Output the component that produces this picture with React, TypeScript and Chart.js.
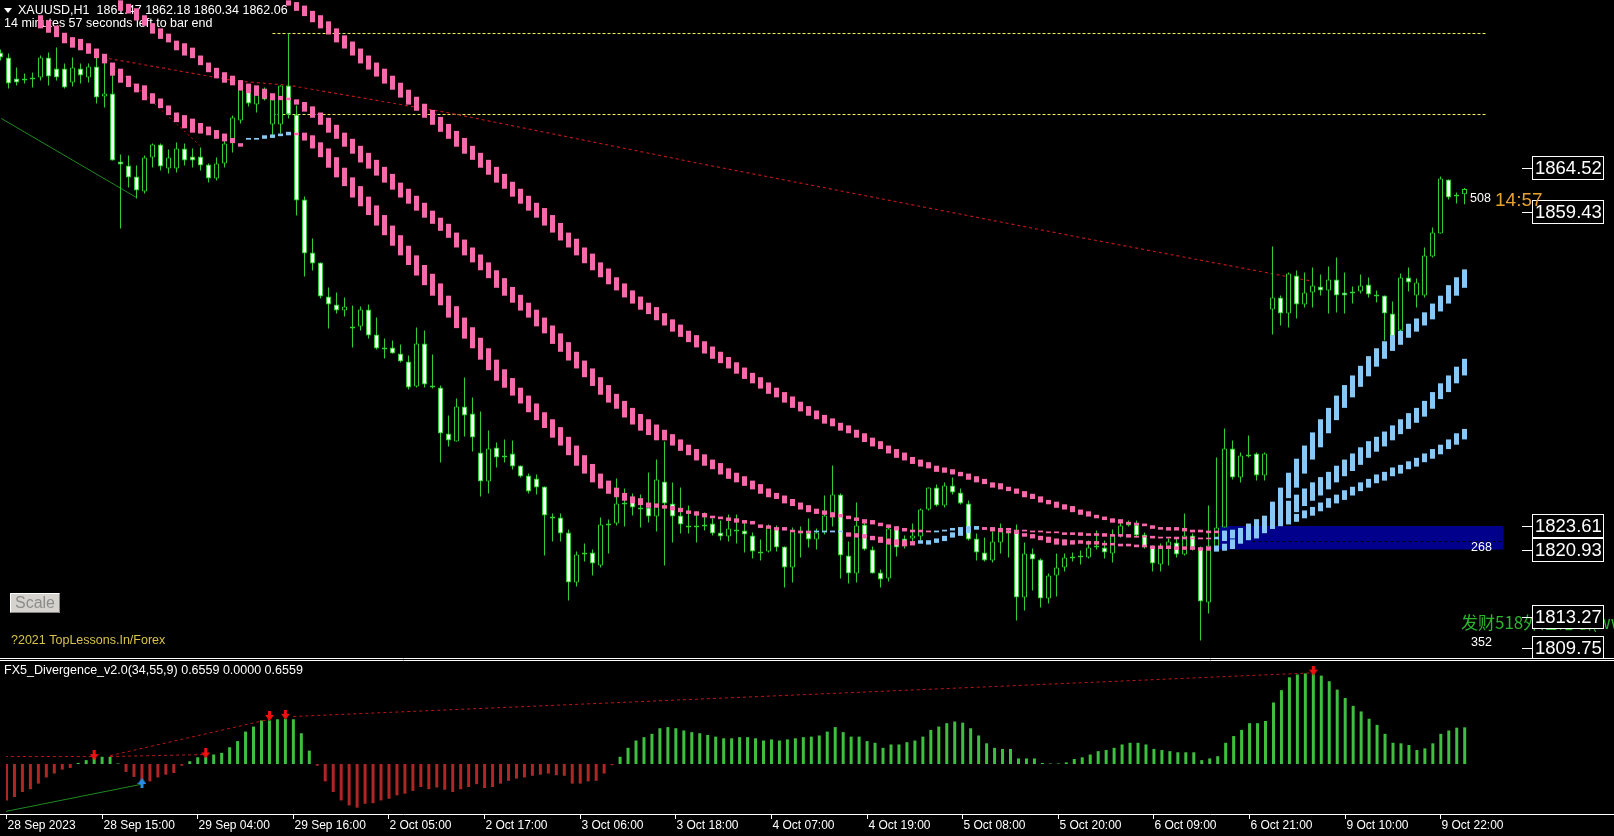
import React, { useEffect, useRef } from "react";
import Chart from "chart.js/auto";

// ---------------- DATA ----------------
const OPEN = [
1877.65,1877.08,1874.68,1874.68,1874.79,1874.79,1877.08,1875.82,1875.82,1874.22,
1875.82,1874.79,1876.05,1872.63,1872.97,1865.21,1864.75,1863.50,1861.79,1865.67,
1867.15,1864.41,1864.41,1866.69,1865.78,1865.78,1864.87,1863.27,1864.98,1867.38,
1869.89,1873.43,1871.71,1873.54,1869.43,1869.43,1873.88,1870.57,1860.87,1854.83,
1853.69,1849.81,1848.89,1848.21,1846.38,1846.38,1848.32,1845.47,1843.99,1843.99,
1843.30,1842.39,1839.54,1844.44,1839.65,1839.42,1834.17,1833.26,1837.26,1836.46,
1832.01,1828.70,1832.58,1831.67,1831.89,1830.52,1829.38,1829.04,1828.13,1824.71,
1824.59,1822.88,1817.17,1820.60,1820.60,1819.11,1823.91,1823.91,1826.30,1826.87,
1825.73,1825.73,1824.71,1828.70,1826.19,1824.82,1823.68,1823.68,1823.79,1823.91,
1822.88,1822.42,1823.22,1823.11,1822.54,1820.71,1820.71,1823.45,1821.28,1818.89,
1822.99,1822.88,1822.08,1822.88,1824.82,1827.22,1820.25,1818.20,1823.79,1820.94,
1818.31,1817.63,1823.45,1822.19,1822.19,1822.42,1825.50,1828.01,1825.96,1828.24,
1827.44,1826.19,1822.19,1820.60,1819.68,1821.74,1822.99,1823.11,1815.46,1820.48,
1819.80,1815.35,1817.97,1818.89,1820.14,1820.25,1820.03,1821.17,1821.17,1820.48,
1822.54,1823.91,1823.79,1822.65,1821.17,1819.23,1821.17,1821.74,1820.37,1822.54,
1821.17,1814.89,1821.17,1823.45,1832.46,1829.16,1831.78,1831.89,1829.38,1848.32,
1849.69,1847.87,1852.20,1848.89,1850.26,1850.95,1850.49,1851.75,1850.26,1850.38,
1850.38,1851.18,1850.03,1849.92,1847.87,1845.93,1851.97,1849.92,1849.92,1854.37,
1856.99,1863.16,1861.44,1861.47];
const HIGH = [
1877.99,1877.53,1875.94,1875.25,1875.37,1877.30,1877.65,1878.22,1876.39,1877.08,
1876.39,1876.39,1877.08,1876.96,1875.94,1866.01,1865.89,1864.75,1865.89,1867.26,
1867.26,1866.58,1867.38,1867.26,1866.69,1866.81,1864.98,1865.67,1867.95,1870.46,
1874.22,1873.88,1873.65,1873.65,1872.40,1873.88,1879.81,1871.60,1861.22,1856.42,
1853.69,1850.83,1850.26,1849.69,1848.78,1848.67,1848.89,1847.41,1845.01,1844.79,
1844.33,1843.07,1846.27,1845.93,1843.19,1839.65,1836.23,1838.17,1840.56,1838.28,
1836.69,1834.52,1833.15,1833.49,1833.38,1830.52,1829.61,1829.50,1828.13,1825.05,
1825.05,1823.22,1820.71,1821.62,1820.94,1824.59,1824.36,1829.04,1827.90,1827.33,
1827.22,1829.73,1831.21,1833.26,1828.59,1828.01,1825.96,1825.28,1825.16,1824.48,
1824.25,1824.93,1824.93,1824.02,1822.88,1822.08,1823.79,1823.68,1821.28,1823.45,
1823.56,1824.48,1823.34,1827.10,1830.52,1827.33,1821.85,1826.30,1824.02,1821.28,
1818.66,1823.45,1823.56,1822.54,1823.91,1825.62,1828.01,1828.36,1828.59,1829.16,
1827.90,1826.53,1822.77,1822.31,1822.99,1823.91,1823.34,1823.79,1821.74,1821.05,
1819.91,1818.20,1820.48,1820.48,1820.60,1820.82,1821.97,1823.11,1821.97,1823.22,
1824.13,1824.25,1824.25,1822.88,1821.40,1821.62,1822.19,1822.19,1825.05,1822.77,
1821.28,1825.96,1831.44,1834.75,1833.38,1832.01,1833.95,1832.01,1832.01,1855.51,
1849.92,1852.55,1852.77,1852.55,1853.12,1852.32,1853.23,1854.26,1852.55,1850.95,
1852.32,1851.97,1850.49,1849.92,1849.24,1852.43,1853.12,1851.86,1855.40,1857.68,
1863.50,1863.16,1861.67,1862.18];
const LOW = [
1876.73,1873.54,1873.88,1874.11,1873.65,1874.45,1873.88,1874.45,1873.54,1873.77,
1874.11,1874.22,1871.83,1871.37,1865.32,1857.57,1862.24,1860.99,1861.56,1864.53,
1864.18,1863.84,1863.96,1864.75,1864.53,1864.18,1862.81,1863.04,1864.53,1866.24,
1869.55,1871.49,1870.80,1872.17,1867.95,1868.40,1870.12,1859.05,1852.09,1852.77,
1849.58,1846.16,1847.87,1847.53,1843.99,1845.93,1845.01,1843.76,1842.73,1843.30,
1842.28,1839.19,1839.42,1839.42,1839.31,1830.87,1832.69,1833.26,1833.83,1832.12,
1826.99,1827.33,1830.30,1830.87,1830.07,1829.16,1827.33,1827.22,1820.25,1821.85,
1821.85,1815.12,1816.72,1819.57,1817.97,1818.89,1820.48,1823.68,1823.56,1824.82,
1823.45,1824.02,1823.00,1819.11,1821.74,1822.77,1822.77,1821.74,1823.11,1822.54,
1821.97,1821.85,1821.62,1820.60,1819.91,1819.68,1820.60,1820.71,1816.60,1817.17,
1820.03,1821.17,1820.94,1822.65,1823.56,1817.63,1817.06,1817.17,1820.82,1818.20,
1816.60,1817.29,1820.14,1821.05,1821.51,1821.74,1825.39,1825.85,1825.73,1827.22,
1826.07,1821.97,1819.68,1819.57,1819.46,1820.48,1820.03,1812.84,1813.98,1816.26,
1814.32,1814.78,1815.58,1818.43,1819.57,1819.23,1819.91,1820.94,1819.91,1819.46,
1822.31,1823.56,1822.31,1821.05,1818.43,1818.43,1819.11,1820.03,1820.25,1820.82,
1810.56,1813.64,1821.05,1823.45,1828.93,1828.59,1831.44,1828.81,1828.81,1845.47,
1846.50,1846.27,1847.30,1848.55,1848.55,1849.92,1847.87,1847.98,1847.87,1849.01,
1850.15,1849.69,1849.12,1844.79,1845.13,1845.70,1850.38,1848.55,1849.69,1854.26,
1856.99,1860.87,1860.42,1860.34];
const CLOSE = [
1877.08,1874.11,1874.22,1874.45,1874.57,1877.08,1874.91,1874.79,1873.65,1875.94,
1875.02,1876.05,1872.51,1872.97,1865.32,1864.87,1863.38,1861.90,1865.67,1867.15,
1864.64,1865.67,1866.69,1865.32,1865.32,1864.75,1863.27,1864.98,1867.26,1870.23,
1873.54,1871.83,1872.97,1872.28,1872.28,1873.88,1870.57,1860.76,1854.71,1853.57,
1849.81,1848.89,1848.21,1848.67,1846.15,1848.32,1845.36,1843.87,1843.76,1843.30,
1842.39,1839.42,1844.44,1839.76,1839.42,1834.17,1833.38,1837.26,1836.23,1833.72,
1828.70,1832.46,1831.44,1831.44,1830.41,1829.27,1827.56,1828.01,1824.82,1824.48,
1822.77,1817.17,1820.37,1820.37,1819.34,1823.79,1823.68,1826.19,1826.07,1825.73,
1825.50,1824.71,1828.93,1826.19,1824.71,1823.79,1823.45,1823.45,1823.56,1822.77,
1822.42,1823.34,1822.99,1822.65,1820.71,1820.48,1823.56,1821.17,1818.89,1823.11,
1822.77,1822.08,1822.88,1824.82,1827.22,1820.25,1818.20,1823.68,1820.94,1818.20,
1817.52,1823.34,1821.17,1821.40,1822.54,1825.50,1828.01,1825.96,1828.24,1827.44,
1826.19,1822.08,1820.60,1819.68,1821.85,1823.11,1822.77,1815.46,1820.48,1819.80,
1815.35,1817.97,1818.89,1820.03,1819.91,1820.03,1821.17,1821.40,1820.60,1822.65,
1823.68,1823.68,1822.54,1821.17,1819.34,1821.17,1821.85,1820.37,1822.54,1821.17,
1815.01,1821.40,1823.45,1832.46,1829.16,1831.67,1831.56,1829.38,1831.89,1849.69,
1847.87,1852.43,1848.89,1850.26,1851.06,1850.49,1851.75,1849.92,1849.92,1850.15,
1851.06,1850.03,1849.81,1847.87,1845.24,1851.97,1851.40,1851.40,1854.48,1857.11,
1863.27,1861.10,1861.21,1862.06];

// Ribbon indicator (three speeds), upper / lower edge per bar, from a start bar
const FAST_START = 5;
const FAST_HI = [
1881.9,1881.3,1880.7,1879.9,1879.4,1879.2,1878.7,1878.1,1877.5,1876.5,
1875.8,1875.0,1874.1,1873.9,1873.0,1872.4,1871.6,1870.8,1870.5,1870.1,
1869.6,1869.2,1868.8,1868.4,1867.9,1867.3,1867.9,1867.9,1868.2,1868.3,
1868.4,1868.6,1868.5,1868.5,1868.2,1867.4,1866.7,1865.7,1864.5,1863.4,
1862.4,1861.2,1860.2,1859.1,1857.9,1856.8,1855.6,1854.5,1853.4,1852.4,
1851.3,1849.9,1848.7,1847.4,1846.3,1845.1,1843.9,1842.6,1841.5,1840.5,
1839.4,1838.5,1837.6,1836.6,1835.8,1834.9,1833.8,1832.8,1831.7,1830.7,
1829.6,1828.8,1828.0,1827.4,1827.0,1826.8,1826.3,1826.2,1826.0,1825.9,
1825.7,1825.4,1825.3,1825.1,1824.8,1824.7,1824.6,1824.5,1824.3,1824.2,
1823.8,1823.7,1823.5,1823.5,1823.2,1823.1,1823.1,1823.1,1823.1,1823.1,
1823.1,1822.9,1822.8,1822.7,1822.5,1822.4,1822.2,1822.1,1822.0,1821.9,
1822.0,1822.0,1822.2,1822.5,1822.9,1823.3,1823.4,1823.6,1823.4,1823.3,
1823.2,1823.1,1823.0,1822.8,1822.7,1822.5,1822.4,1822.2,1822.1,1822.0,
1822.0,1821.9,1821.9,1821.7,1821.7,1821.6,1821.6,1821.5,1821.5,1821.4,
1821.4,1821.4,1821.3,1821.3,1821.3,1821.2,1821.3,1821.4,1821.6,1822.1,
1822.8,1823.4,1824.0,1824.6,1826.4,1828.0,1829.7,1831.3,1832.8,1834.3,
1835.8,1837.1,1838.5,1839.7,1840.8,1841.9,1843.0,1843.9,1844.7,1845.4,
1845.9,1846.7,1847.3,1848.0,1849.0,1849.9,1851.1,1852.0,1852.9];
const FAST_LO = [
1880.4,1879.9,1879.4,1878.7,1878.2,1877.9,1877.5,1877.0,1876.4,1875.0,
1874.2,1873.7,1873.1,1872.2,1871.8,1871.3,1870.5,1869.7,1869.0,1868.5,
1868.4,1868.2,1867.8,1867.5,1867.3,1866.9,1867.7,1867.7,1867.8,1867.9,
1868.1,1868.2,1868.2,1867.6,1866.7,1865.7,1864.5,1863.4,1862.4,1861.1,
1860.1,1859.1,1857.9,1856.8,1855.6,1854.5,1853.4,1852.2,1851.1,1849.9,
1848.8,1847.4,1846.2,1845.0,1843.9,1842.6,1841.4,1840.2,1839.4,1838.5,
1837.6,1836.6,1835.7,1834.8,1833.7,1832.8,1831.7,1830.5,1829.6,1828.6,
1827.9,1827.3,1826.9,1826.5,1826.2,1826.0,1825.7,1825.7,1825.6,1825.4,
1825.2,1825.0,1824.8,1824.6,1824.5,1824.4,1824.2,1824.0,1823.9,1823.8,
1823.4,1823.3,1823.1,1823.1,1822.9,1822.8,1822.8,1822.9,1822.9,1822.9,
1822.9,1822.4,1822.3,1822.2,1822.0,1821.7,1821.5,1821.4,1821.3,1821.4,
1821.6,1821.5,1821.7,1821.9,1822.3,1822.5,1822.8,1823.2,1823.2,1823.0,
1822.9,1822.8,1822.7,1822.4,1822.2,1822.0,1821.7,1821.5,1821.4,1821.5,
1821.6,1821.5,1821.5,1821.4,1821.4,1821.3,1821.3,1821.2,1821.2,1821.0,
1821.0,1821.0,1820.9,1820.9,1820.9,1820.8,1820.8,1820.7,1820.8,1821.0,
1821.6,1822.0,1822.2,1822.8,1823.3,1825.0,1826.8,1828.0,1829.6,1831.2,
1832.6,1834.2,1835.7,1837.1,1838.3,1839.5,1840.7,1841.8,1842.7,1843.6,
1844.3,1845.1,1845.8,1846.5,1847.2,1848.1,1849.0,1849.9,1850.8];
const FAST_UP = [[31, 36], [102, 105], [115, 122], [152, 183]];

const MID_START = 15;
const MID_HI = [
1883.6,1883.2,1882.7,1881.9,1881.0,1880.4,1879.8,1879.0,1878.7,1878.2,
1877.3,1876.5,1875.9,1875.4,1875.0,1874.5,1874.1,1873.9,1873.5,1873.0,
1872.7,1872.5,1872.3,1872.0,1871.5,1870.8,1870.2,1869.4,1868.5,1867.8,
1867.0,1866.2,1865.4,1864.6,1863.8,1862.8,1862.1,1861.3,1860.5,1859.6,
1858.8,1858.1,1857.1,1856.3,1855.4,1854.6,1853.7,1852.8,1851.9,1850.9,
1850.0,1849.1,1848.3,1847.4,1846.5,1845.6,1844.6,1843.5,1842.5,1841.6,
1840.6,1839.7,1838.7,1837.9,1837.1,1836.4,1835.8,1835.2,1834.6,1834.1,
1833.5,1832.9,1832.4,1831.8,1831.2,1830.8,1830.2,1829.7,1829.3,1828.8,
1828.4,1827.9,1827.4,1827.1,1826.7,1826.3,1826.0,1825.6,1825.4,1825.2,
1825.0,1824.8,1824.6,1824.4,1824.3,1824.0,1823.8,1823.6,1823.4,1823.2,
1823.2,1823.1,1823.1,1823.2,1823.4,1823.5,1823.6,1823.6,1823.5,1823.5,
1823.4,1823.4,1823.2,1823.2,1823.1,1823.1,1823.0,1823.0,1822.9,1822.9,
1822.9,1822.8,1822.8,1822.8,1822.7,1822.7,1822.7,1822.5,1822.5,1822.5,
1822.4,1822.4,1822.4,1822.4,1822.3,1822.3,1822.3,1822.4,1822.8,1823.1,
1823.4,1823.9,1824.4,1824.8,1825.3,1825.8,1826.5,1827.2,1827.9,1828.6,
1829.2,1829.8,1830.5,1831.2,1831.9,1832.6,1833.3,1833.8,1834.4,1835.1,
1835.8,1836.5,1837.1,1837.9,1838.9,1839.9,1840.8,1841.8,1842.7];
const MID_LO = [
1882.4,1882.1,1881.3,1880.7,1879.8,1879.2,1878.8,1877.9,1877.3,1877.0,
1876.2,1875.4,1874.7,1874.2,1873.9,1873.3,1873.0,1872.7,1872.4,1872.2,
1872.2,1872.2,1871.7,1870.9,1870.2,1869.4,1868.5,1867.8,1866.9,1866.1,
1865.1,1864.4,1863.6,1862.8,1862.0,1861.1,1860.4,1859.6,1858.8,1858.1,
1857.3,1856.5,1855.4,1854.5,1853.7,1852.8,1851.9,1850.8,1849.9,1849.1,
1848.2,1847.4,1846.4,1845.6,1844.4,1843.5,1842.5,1841.6,1840.6,1839.6,
1838.6,1837.7,1837.0,1836.0,1835.2,1834.5,1834.0,1833.4,1833.4,1832.8,
1832.2,1831.7,1831.1,1830.5,1830.1,1829.5,1829.0,1828.6,1828.2,1827.8,
1827.3,1826.9,1826.7,1826.2,1825.9,1825.5,1825.2,1825.0,1824.9,1824.6,
1824.6,1824.4,1824.2,1823.9,1823.8,1823.6,1823.4,1823.1,1823.0,1822.9,
1822.9,1822.9,1822.9,1823.0,1823.1,1823.2,1823.3,1823.3,1823.2,1823.2,
1823.1,1823.1,1823.0,1823.0,1822.9,1822.9,1822.8,1822.8,1822.6,1822.6,
1822.5,1822.5,1822.5,1822.4,1822.4,1822.4,1822.3,1822.3,1822.3,1822.2,
1822.2,1822.2,1822.1,1822.1,1822.1,1822.1,1822.1,1822.1,1821.9,1822.2,
1822.4,1822.6,1822.9,1823.2,1823.6,1824.0,1824.6,1825.2,1825.9,1826.5,
1827.1,1827.8,1828.6,1829.3,1829.9,1830.6,1831.4,1832.1,1832.7,1833.4,
1834.1,1834.7,1835.4,1836.1,1837.0,1838.1,1838.9,1839.9,1840.8];
const MID_UP = [[117, 122], [152, 183]];

const SLOW_START = 36;
const SLOW_HI = [
1883.6,1883.4,1883.0,1882.4,1881.9,1881.2,1880.4,1879.6,1878.9,1878.1,
1877.3,1876.5,1875.8,1875.0,1874.2,1873.4,1872.6,1871.8,1871.1,1870.3,
1869.5,1868.7,1867.9,1867.0,1866.2,1865.4,1864.6,1863.8,1862.9,1862.1,
1861.3,1860.5,1859.9,1859.1,1858.2,1857.1,1856.4,1855.4,1854.7,1853.7,
1853.0,1852.0,1851.3,1850.5,1849.8,1849.1,1848.6,1847.9,1847.2,1846.6,
1845.9,1845.4,1844.7,1844.1,1843.5,1842.9,1842.3,1841.7,1841.1,1840.6,
1840.0,1839.4,1838.9,1838.4,1837.8,1837.3,1836.8,1836.3,1835.9,1835.4,
1835.1,1834.6,1834.2,1833.7,1833.3,1832.8,1832.4,1832.0,1831.5,1831.2,
1830.9,1830.5,1830.3,1830.1,1829.8,1829.6,1829.3,1829.0,1828.6,1828.5,
1828.1,1827.9,1827.6,1827.3,1827.0,1826.6,1826.4,1826.1,1825.9,1825.5,
1825.3,1824.9,1824.7,1824.5,1824.4,1824.1,1824.0,1823.9,1823.7,1823.5,
1823.5,1823.5,1823.4,1823.2,1823.2,1823.1,1823.1,1823.1,1823.2,1823.3,
1823.5,1823.7,1823.9,1824.1,1824.5,1824.7,1825.0,1825.4,1825.8,1826.3,
1826.8,1827.2,1827.7,1828.1,1828.6,1829.0,1829.5,1829.8,1830.3,1830.6,
1831.0,1831.4,1831.9,1832.4,1832.9,1833.5,1834.2,1834.7];
const SLOW_LO = [
1883.0,1882.4,1881.8,1881.1,1880.4,1879.7,1878.8,1878.1,1877.3,1876.4,
1875.7,1874.9,1874.1,1873.4,1872.5,1871.7,1871.0,1870.2,1869.4,1868.6,
1867.8,1866.9,1866.1,1865.4,1864.5,1863.7,1862.8,1862.1,1861.2,1860.4,
1859.6,1858.8,1857.9,1857.1,1856.2,1855.4,1854.5,1853.6,1852.8,1852.0,
1851.2,1850.5,1849.7,1849.0,1848.3,1847.8,1847.1,1846.5,1845.8,1845.2,
1844.6,1844.0,1843.3,1842.7,1842.2,1841.6,1841.0,1840.4,1839.9,1839.3,
1838.7,1838.3,1837.7,1837.1,1836.7,1836.2,1835.8,1835.3,1835.0,1834.5,
1834.2,1833.7,1833.2,1832.7,1832.4,1831.9,1831.4,1831.1,1830.7,1830.4,
1830.2,1829.8,1829.7,1829.5,1829.3,1828.9,1828.6,1828.4,1828.0,1827.8,
1827.6,1827.3,1826.9,1826.7,1826.3,1826.1,1825.7,1825.5,1825.2,1824.9,
1824.7,1824.5,1824.3,1824.0,1823.9,1823.8,1823.7,1823.6,1823.3,1823.2,
1823.1,1823.1,1823.0,1822.9,1822.9,1822.8,1822.8,1822.6,1822.6,1822.8,
1822.8,1822.9,1823.1,1823.3,1823.6,1823.8,1824.1,1824.5,1824.8,1825.3,
1825.7,1826.2,1826.6,1827.1,1827.6,1828.0,1828.5,1828.8,1829.3,1829.6,
1830.1,1830.4,1830.9,1831.3,1831.8,1832.4,1832.9,1833.5];
const SLOW_UP = [[153, 183]];

// Lines and zones drawn on the price chart
const LEVELS = [1879.81, 1870.57];
const LEVEL_FROM = 34;
const LEVEL_TO = 185.75;
const RES_TREND = [[12.8, 1877.08], [29.1, 1874.45], [36.2, 1873.88], [55.8, 1870.8], [87.4, 1864.98], [135, 1856.54], [164.1, 1851.52]];
const RES_TREND2 = [[13.3, 1876.85], [24.9, 1867.04]];
const SUP_TREND = [[0.1, 1870.12], [17, 1861.1]];
const ZONE_HI = 1823.61;
const ZONE_LO = 1820.93;
const ZONE_MID = 1821.85;
const ZONE_FROM = 152.4;
const ZONE_MID_FROM = 156.5;
const ZONE_TO = 187.9;
const PRICE_LABELS = [1864.52, 1859.43, 1823.61, 1820.93, 1813.27, 1809.75];

// FX5 divergence histogram
const DIV = [
-0.65,-0.59,-0.50,-0.45,-0.35,-0.24,-0.17,-0.10,-0.07,0.02,
0.07,0.13,0.13,0.13,0.01,-0.14,-0.23,-0.31,-0.31,-0.24,
-0.19,-0.16,-0.03,0.05,0.12,0.13,0.17,0.20,0.30,0.41,
0.58,0.67,0.78,0.78,0.80,0.81,0.80,0.55,0.24,-0.03,
-0.31,-0.50,-0.65,-0.74,-0.78,-0.71,-0.70,-0.65,-0.62,-0.56,
-0.53,-0.48,-0.41,-0.45,-0.42,-0.46,-0.50,-0.45,-0.41,-0.36,
-0.43,-0.41,-0.35,-0.30,-0.26,-0.24,-0.21,-0.19,-0.17,-0.20,
-0.21,-0.35,-0.35,-0.31,-0.30,-0.17,-0.02,0.13,0.29,0.42,
0.48,0.54,0.64,0.66,0.64,0.60,0.57,0.55,0.52,0.49,
0.46,0.46,0.48,0.48,0.46,0.42,0.44,0.42,0.44,0.46,
0.48,0.49,0.51,0.58,0.66,0.57,0.49,0.49,0.41,0.38,
0.29,0.35,0.35,0.39,0.42,0.49,0.61,0.67,0.73,0.76,
0.74,0.64,0.51,0.37,0.29,0.27,0.27,0.10,0.10,0.10,
0.02,0.01,0.01,0.03,0.09,0.12,0.17,0.23,0.25,0.29,
0.35,0.38,0.38,0.35,0.27,0.25,0.23,0.21,0.21,0.21,
0.07,0.10,0.14,0.38,0.50,0.61,0.73,0.73,0.77,1.10,
1.32,1.55,1.60,1.62,1.62,1.58,1.48,1.33,1.18,1.04,
0.94,0.81,0.70,0.54,0.38,0.37,0.34,0.25,0.28,0.37,
0.54,0.60,0.65,0.6559];
const DIV_BEAR_TRENDS = [
  [[-0.2, 0.134], [11, 0.134]],
  [[13, 0.134], [25, 0.17]],
  [[13, 0.15], [33, 0.8]],
  [[36, 0.85], [164, 1.63]],
];
const DIV_BULL_TRENDS = [[[-0.2, -0.85], [17, -0.36]]];
const DIV_SELL_ARROWS = [[11, 0.16], [25, 0.19], [33, 0.86], [35, 0.88], [164, 1.67]];
const DIV_BUY_ARROWS = [[17, -0.34]];

const TIME_TICK_BARS = [0, 12, 24, 36, 48, 60, 72, 84, 96, 108, 120, 132, 144, 156, 168, 180];
const TIME_LABELS = ["28 Sep 2023", "28 Sep 15:00", "29 Sep 04:00", "29 Sep 16:00", "2 Oct 05:00", "2 Oct 17:00", "3 Oct 06:00", "3 Oct 18:00", "4 Oct 07:00", "4 Oct 19:00", "5 Oct 08:00", "5 Oct 20:00", "6 Oct 09:00", "6 Oct 21:00", "9 Oct 10:00", "9 Oct 22:00"];

const HEADER = "XAUUSD,H1  1861.47 1862.18 1860.34 1862.06";
const TIMER = "14 minutes 57 seconds left to bar end";
const SUB_TITLE = "FX5_Divergence_v2.0(34,55,9) 0.6559 0.0000 0.6559";

// ---------------- STYLE ----------------
const PINK = "#f46aad";
const SKY = "#87c8f5";
const LIME = "#32cd32";
const FONT = "'Liberation Sans', Arial, sans-serif";

function inRanges(r: number[][], i: number) {
  return r.some(([a, b]) => i >= a && i <= b);
}
function pts(a: number[][]) {
  return a.map(([x, y]) => ({ x, y }));
}

function ribbon(start: number, hi: number[], lo: number[], up: number[][], order: number) {
  return {
    type: "bar" as const,
    order,
    grouped: false,
    barThickness: 5,
    borderWidth: 0,
    inflateAmount: 0,
    data: hi.map((h, k) => ({ x: start + k, y: [lo[k], h] })),
    backgroundColor: hi.map((_, k) => (inRanges(up, start + k) ? SKY : PINK)),
  };
}

function lineDs(data: { x: number; y: number }[], color: string, dash: number[], order: number, extra: any = {}) {
  return {
    type: "line" as const,
    order,
    data,
    borderColor: color,
    borderWidth: 1,
    borderDash: dash,
    pointRadius: 0,
    fill: false,
    tension: 0,
    ...extra,
  };
}

function makeArrow(color: string, down: boolean) {
  const cv = document.createElement("canvas");
  cv.width = 9;
  cv.height = 10;
  const g = cv.getContext("2d")!;
  g.fillStyle = color;
  g.beginPath();
  if (down) {
    g.fillRect(3, 0, 3, 5);
    g.moveTo(0, 4); g.lineTo(9, 4); g.lineTo(4.5, 10);
  } else {
    g.fillRect(3, 5, 3, 5);
    g.moveTo(0, 6); g.lineTo(9, 6); g.lineTo(4.5, 0);
  }
  g.closePath();
  g.fill();
  return cv;
}

const PLOT_W = 1520;

export default function App() {
  const mainRef = useRef<HTMLCanvasElement>(null);
  const subRef = useRef<HTMLCanvasElement>(null);

  useEffect(() => {
    document.body.style.margin = "0";
    document.body.style.background = "#000";
    document.body.style.overflow = "hidden";

    const xMin = -0.0625;
    const mainOverlay = {
      id: "mainOverlay",
      beforeDraw(chart: any) {
        const c = chart.ctx;
        c.save();
        c.fillStyle = "#000";
        c.fillRect(0, 0, chart.width, chart.height);
        c.restore();
      },
      beforeDatasetsDraw(chart: any) {
        const c = chart.ctx;
        c.save();
        c.fillStyle = "#fff";
        c.beginPath();
        c.moveTo(4, 8); c.lineTo(12, 8); c.lineTo(8, 13); c.closePath();
        c.fill();
        c.font = `12.5px ${FONT}`;
        c.textBaseline = "middle";
        c.textAlign = "left";
        c.fillText(HEADER, 18, 11);
        c.fillText(TIMER, 4, 24);
        c.restore();
      },
      afterDatasetsDraw(chart: any) {
        const c = chart.ctx;
        const ys = chart.scales.y;
        const right = chart.chartArea.right;
        c.save();
        // Scale button
        c.fillStyle = "#d6d3ce";
        c.fillRect(10, 593, 50, 20);
        c.strokeStyle = "#ffffff";
        c.lineWidth = 1;
        c.beginPath(); c.moveTo(10.5, 612.5); c.lineTo(10.5, 593.5); c.lineTo(59.5, 593.5); c.stroke();
        c.strokeStyle = "#808080";
        c.beginPath(); c.moveTo(59.5, 593.5); c.lineTo(59.5, 612.5); c.lineTo(10.5, 612.5); c.stroke();
        c.fillStyle = "#8c8c8c";
        c.font = `16px ${FONT}`;
        c.textAlign = "center";
        c.textBaseline = "middle";
        c.fillText("Scale", 35, 603.5);
        // copyright
        c.textAlign = "left";
        c.font = `12.5px ${FONT}`;
        c.fillStyle = "#d8c24e";
        c.fillText("?2021 TopLessons.In/Forex", 11, 641);
        // small numbers
        c.fillStyle = "#ffffff";
        c.fillText("508", 1470, 199);
        c.fillText("268", 1471, 548);
        c.fillText("352", 1471, 643);
        // chinese watermark
        c.fillStyle = "#2db52d";
        c.font = "17px 'Noto Sans CJK SC', sans-serif";
        c.fillText("发财518外汇论坛(www.518fx.com)", 1461, 623);
        // price labels
        c.font = `18.5px ${FONT}`;
        for (const v of PRICE_LABELS) {
          const py = Math.round(ys.getPixelForValue(v));
          c.strokeStyle = "#ffffff";
          c.beginPath(); c.moveTo(right + 2, py + 0.5); c.lineTo(right + 12, py + 0.5); c.stroke();
          c.fillStyle = "#000";
          c.fillRect(right + 12, py - 12, 72, 24);
          c.strokeRect(right + 12.5, py - 11.5, 71, 23);
          c.fillStyle = "#fff";
          c.fillText(v.toFixed(2), right + 15, py + 1);
        }
        // countdown
        c.fillStyle = "#e8a232";
        c.font = `19px ${FONT}`;
        c.fillText("14:57", 1495, 201);
        // bottom border
        c.strokeStyle = "#fff";
        c.beginPath(); c.moveTo(0, chart.height - 0.5); c.lineTo(chart.width, chart.height - 0.5); c.stroke();
        c.restore();
      },
    };

    const candleColors = OPEN.map((o, i) => (CLOSE[i] >= o ? "#000000" : "#ffffff"));

    const main = new Chart(mainRef.current!, {
      type: "bar",
      data: {
        datasets: [
          lineDs([{ x: ZONE_FROM, y: ZONE_HI }, { x: ZONE_TO, y: ZONE_HI }], "rgba(0,0,0,0)", [], 40, { fill: "+1", backgroundColor: "#00008c", borderWidth: 0 }),
          lineDs([{ x: ZONE_FROM, y: ZONE_LO }, { x: ZONE_TO, y: ZONE_LO }], "rgba(0,0,0,0)", [], 39, { borderWidth: 0 }),
          lineDs([{ x: ZONE_MID_FROM, y: ZONE_MID }, { x: ZONE_TO, y: ZONE_MID }], "#000000", [3, 3], 38),
          ...LEVELS.map((lv) => lineDs([{ x: LEVEL_FROM, y: lv }, { x: LEVEL_TO, y: lv }], "#f7f25e", [3, 2], 37)),
          lineDs(pts(RES_TREND), "#b8161b", [3, 3], 36, { borderWidth: 1.2 }),
          lineDs(pts(RES_TREND2), "#b8161b", [2, 3], 36),
          lineDs(pts(SUP_TREND), "#1f8a1f", [], 36),
          {
            type: "bar",
            order: 20,
            grouped: false,
            barThickness: 1,
            borderWidth: 0,
            inflateAmount: 0,
            backgroundColor: LIME,
            data: OPEN.map((_, i) => ({ x: i, y: [LOW[i], HIGH[i]] })),
          },
          {
            type: "bar",
            order: 19,
            grouped: false,
            barThickness: 5,
            borderWidth: 1,
            borderSkipped: false,
            inflateAmount: 0,
            borderColor: LIME,
            backgroundColor: candleColors,
            data: OPEN.map((o, i) => ({ x: i, y: [o, CLOSE[i]] })),
          },
          ribbon(SLOW_START, SLOW_HI, SLOW_LO, SLOW_UP, 3),
          ribbon(MID_START, MID_HI, MID_LO, MID_UP, 2),
          ribbon(FAST_START, FAST_HI, FAST_LO, FAST_UP, 1),
        ] as any,
      },
      options: {
        responsive: false,
        animation: false,
        devicePixelRatio: 1,
        events: [],
        layout: { padding: { left: 0, right: 1614 - PLOT_W, top: 0, bottom: 0 } },
        scales: {
          x: { type: "linear", min: xMin, max: xMin + PLOT_W / 8, display: false, offset: false },
          y: { type: "linear", min: 1808.447, max: 1883.637, display: false },
        },
        plugins: { legend: { display: false }, tooltip: { enabled: false } },
      } as any,
      plugins: [mainOverlay],
    });

    const sellImg = makeArrow("#ee1111", true);
    const buyImg = makeArrow("#2a8ce6", false);
    const subOverlay = {
      id: "subOverlay",
      beforeDraw(chart: any) {
        const c = chart.ctx;
        c.save();
        c.fillStyle = "#000";
        c.fillRect(0, 0, chart.width, chart.height);
        c.restore();
      },
      afterDatasetsDraw(chart: any) {
        const c = chart.ctx;
        const xs = chart.scales.x;
        const bottom = chart.chartArea.bottom;
        c.save();
        c.strokeStyle = "#fff";
        c.lineWidth = 1;
        c.beginPath(); c.moveTo(0, 1.5); c.lineTo(chart.width, 1.5); c.stroke();
        c.beginPath(); c.moveTo(0, bottom + 0.5); c.lineTo(chart.width, bottom + 0.5); c.stroke();
        c.fillStyle = "#fff";
        c.font = `12.5px ${FONT}`;
        c.textBaseline = "middle";
        c.textAlign = "left";
        c.fillText(SUB_TITLE, 4, 12);
        c.font = `12px ${FONT}`;
        TIME_TICK_BARS.forEach((b, k) => {
          const tx = Math.floor(xs.getPixelForValue(b)) + 0.5;
          c.beginPath(); c.moveTo(tx, bottom); c.lineTo(tx, bottom + 5); c.stroke();
          c.fillText(TIME_LABELS[k], tx + 1, bottom + 12);
        });
        c.restore();
      },
    };

    const sub = new Chart(subRef.current!, {
      type: "bar",
      data: {
        datasets: [
          {
            type: "bar",
            order: 10,
            grouped: false,
            barThickness: 3,
            borderWidth: 0,
            inflateAmount: 0,
            data: DIV.map((v, i) => ({ x: i, y: v })),
            backgroundColor: DIV.map((v) => (v >= 0 ? "#3fbf3f" : "#b02626")),
          },
          ...DIV_BEAR_TRENDS.map((t) => lineDs(pts(t), "#b81818", [3, 3], 5)),
          ...DIV_BULL_TRENDS.map((t) => lineDs(pts(t), "#1f8a1f", [], 5)),
          { type: "scatter", order: 1, data: pts(DIV_SELL_ARROWS), pointStyle: sellImg, pointRadius: 5 },
          { type: "scatter", order: 1, data: pts(DIV_BUY_ARROWS), pointStyle: buyImg, pointRadius: 5 },
        ] as any,
      },
      options: {
        responsive: false,
        animation: false,
        devicePixelRatio: 1,
        events: [],
        layout: { padding: { left: 0, right: 1614 - PLOT_W, top: 2, bottom: 22 } },
        scales: {
          x: { type: "linear", min: xMin, max: xMin + PLOT_W / 8, display: false, offset: false },
          y: { type: "linear", min: -0.893, max: 1.77, display: false },
        },
        plugins: { legend: { display: false }, tooltip: { enabled: false } },
      } as any,
      plugins: [subOverlay],
    });

    return () => {
      main.destroy();
      sub.destroy();
    };
  }, []);

  return (
    <div style={{ position: "relative", width: 1614, height: 836, background: "#000", overflow: "hidden" }}>
      <canvas ref={mainRef} width={1614} height={659} style={{ position: "absolute", left: 0, top: 0 }} />
      <canvas ref={subRef} width={1614} height={177} style={{ position: "absolute", left: 0, top: 659 }} />
    </div>
  );
}
